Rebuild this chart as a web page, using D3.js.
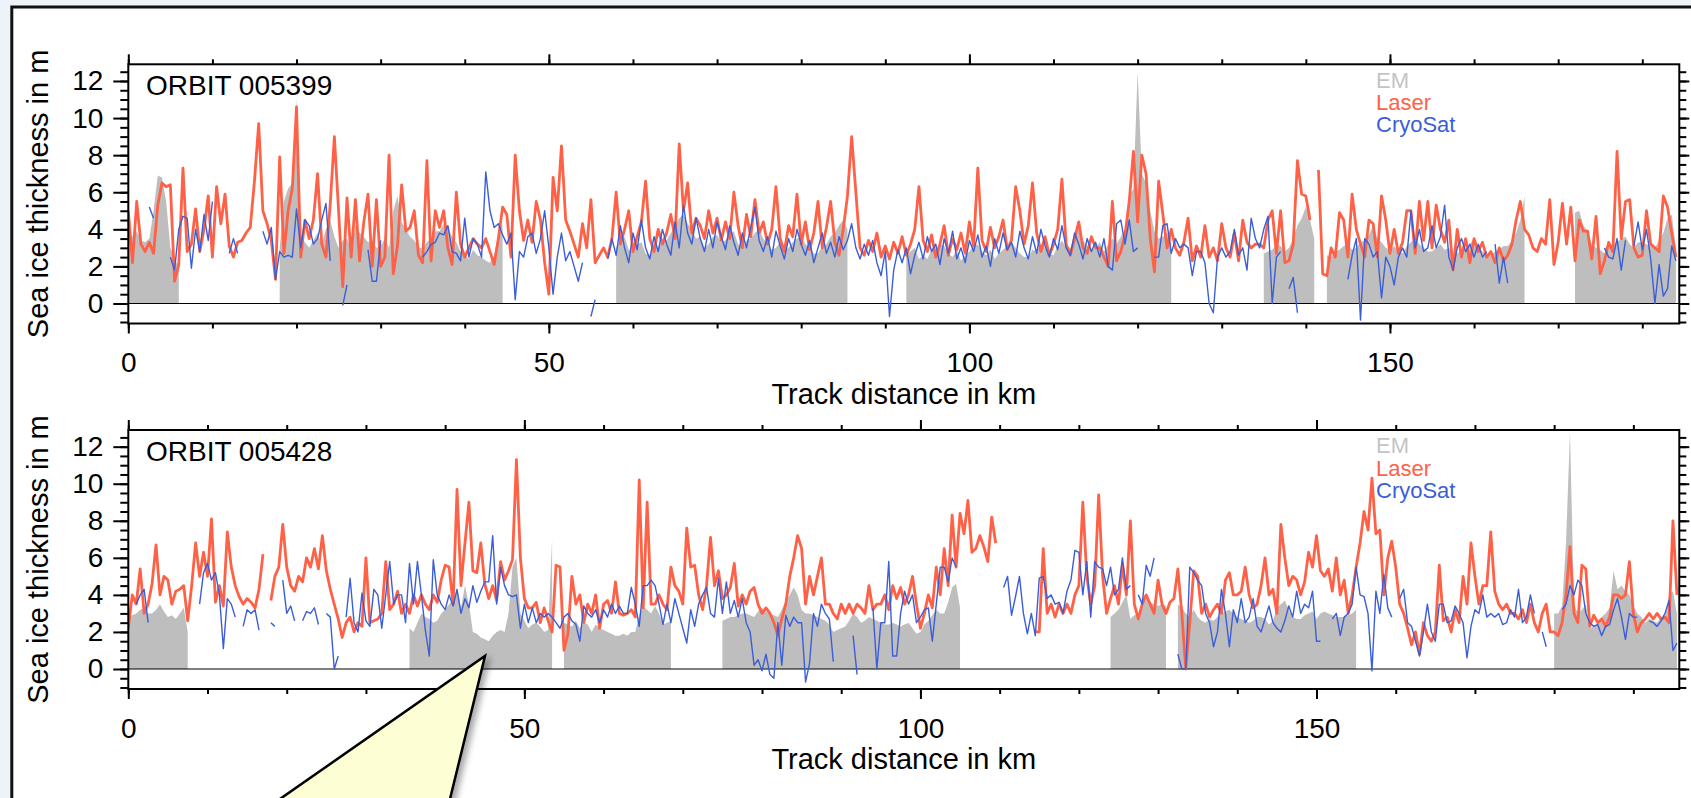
<!DOCTYPE html>
<html>
<head>
<meta charset="utf-8">
<script src="https://cdnjs.cloudflare.com/ajax/libs/d3/7.8.5/d3.min.js"></script>
<style>
    html, body { margin: 0; padding: 0; background: #edf3f8; }
    svg { display: block; }
</style>
</head>
<body>
<div id="chart"></div>
<script>
// samples are 0.5 km apart along the track, null = no data
var STEP = 0.5;

var orbitNames = ['ORBIT 005399', 'ORBIT 005428'];
var trackLength = [184.4, 195.8];
var legendNames = ['EM', 'Laser', 'CryoSat'];
var xTickValues = [0, 50, 100, 150];
var yTickValues = [0, 2, 4, 6, 8, 10, 12];

// ---- ORBIT 005399 ----
var em1 = [
    4.0, 3.6, 3.9, 3.4, 3.3, 3.5, 5.0, 6.9, 6.8, 5.5,
    3.0, 2.4, 2.0, null, null, null, null, null, null, null,
    null, null, null, null, null, null, null, null, null, null,
    null, null, null, null, null, null, 3.0, 5.5, 6.2, 6.5,
    11.0, 3.5, 3.3, 3.0, 3.4, 3.8, 3.2, 4.0, 4.5, 3.6,
    3.0, 3.4, 3.5, 3.0, 4.2, 3.8, 3.6, 3.3, 3.4, 3.0,
    3.1, 3.5, 3.0, 5.0, 5.8, 4.4, 4.0, 3.6, 3.4, 3.0,
    3.0, 3.3, 3.5, 3.9, 3.9, 4.3, 4.1, 3.6, 3.3, 2.8,
    2.6, 2.4, 2.9, 2.6, 2.5, 2.3, 2.2, 2.6, 3.8, 4.3,
    null, null, null, null, null, null, null, null, null, null,
    null, null, null, null, null, null, null, null, null, null,
    null, null, null, null, null, null, 3.0, 3.4, 3.6, 2.9,
    2.8, 3.2, 3.3, 2.7, 2.6, 3.1, 3.0, 3.4, 3.4, 3.8,
    4.2, 4.6, 4.8, 4.3, 4.0, 3.5, 3.6, 3.0, 3.2, 3.6,
    3.7, 3.3, 3.4, 3.8, 3.9, 3.2, 3.0, 3.4, 3.5, 3.8,
    4.0, 3.5, 3.2, 2.9, 3.0, 3.3, 2.8, 3.0, 3.3, 3.5,
    3.6, 3.2, 3.0, 2.7, 2.7, 3.1, 3.2, 3.6, 3.8, 4.2,
    4.5, 4.0, null, null, null, null, null, null, null, null,
    null, null, null, null, null, 2.6, 2.8, 3.0, 2.4, 2.6,
    2.4, 2.9, 2.8, 3.2, 3.1, 2.7, 2.5, 2.9, 2.3, 2.6,
    2.8, 3.1, 3.2, 2.8, 2.6, 2.9, 2.4, 2.7, 2.9, 3.1,
    3.3, 3.0, 2.7, 2.5, 2.5, 2.9, 2.8, 3.2, 3.0, 2.7,
    2.6, 3.1, 3.4, 3.0, 3.0, 3.5, 4.0, 3.4, 3.1, 2.9,
    3.0, 3.3, 2.8, 3.2, 3.5, 3.2, 3.6, 4.0, 5.8, 6.2,
    12.5, 7.0, 6.5, 5.0, 3.9, 3.5, 3.6, 3.8, 3.5, null,
    null, null, null, null, null, null, null, null, null, null,
    null, null, null, null, null, null, null, null, null, null,
    2.7, 2.8, 2.9, 3.2, 3.1, 2.8, 3.0, 3.5, 4.2, 4.6,
    5.2, 4.5, 3.5, null, null, 2.6, 2.5, 2.8, 2.9, 3.1,
    3.2, 2.9, 3.0, 3.3, 3.4, 3.7, 4.2, 3.5, 3.3, 3.0,
    2.9, 3.1, 2.8, 2.7, 3.1, 3.3, 3.5, 3.2, 3.0, 2.8,
    2.8, 3.0, 3.2, 2.9, 3.0, 2.6, 2.7, 2.9, 2.9, 3.2,
    3.5, 3.0, 2.8, 2.6, 2.6, 2.8, 2.9, 3.1, 3.1, 3.4,
    3.8, 4.5, 5.8, null, null, null, null, null, null, null,
    null, null, null, null, 4.9, 5.0, 4.2, 3.9, 3.2, 3.0,
    2.9, 2.7, 3.0, 3.2, 3.3, 3.5, 3.6, 3.2, 3.0, 3.3,
    3.3, 3.2, 3.1, 3.0, 3.4, 3.8, 4.6, 4.8, 3.0
];

var laser1 = [
    5.0, 2.2, 5.5, 3.2, 2.8, 3.3, 2.7, 5.3, 6.5, 6.3,
    6.4, 1.2, 2.1, 7.3, 2.8, 3.2, 5.1, 2.8, 4.0, 5.8,
    2.5, 6.3, 4.3, 5.9, 3.1, 2.5, 3.3, 3.4, 3.8, 4.1,
    6.6, 9.7, 5.0, 4.3, 3.4, 1.3, 7.9, 2.7, 5.0, 6.2,
    10.6, 2.5, 4.5, 3.5, 4.5, 7.0, 3.2, 2.5, 5.3, 9.0,
    5.0, 0.9, 5.7, 2.5, 5.6, 2.3, 4.4, 5.9, 2.0, 5.6,
    2.0, 2.5, 8.0, 1.6, 3.1, 6.4, 3.9, 4.1, 5.0, 2.6,
    2.2, 7.7, 2.3, 5.0, 4.1, 5.0, 3.0, 2.1, 6.0, 3.2,
    2.5, 3.0, 3.5, 3.2, 3.0, 3.5, 2.8, 2.1, 3.5, 5.2,
    4.8, 2.5, 8.0, 5.0, 3.4, 4.5, 3.3, 5.5, 4.5, 2.2,
    0.5, 6.8, 5.0, 8.5, 4.5, 3.9, 3.2, 2.5, 4.3, 3.0,
    5.6, 2.2, 2.6, 3.0, 2.5, 3.5, 6.0, 3.2, 4.0, 5.0,
    2.8, 3.6, 4.4, 6.6, 3.5, 2.8, 4.0, 3.2, 3.8, 4.8,
    3.5, 8.6, 5.0, 6.5, 3.8, 4.6, 4.2, 3.5, 5.0, 3.8,
    4.6, 3.4, 4.4, 3.5, 6.0, 4.2, 3.0, 4.8, 3.6, 5.6,
    3.8, 4.4, 3.2, 4.0, 6.3, 3.5, 2.8, 4.2, 3.6, 5.9,
    3.2, 4.4, 2.9, 3.8, 5.5, 3.0, 4.1, 5.5, 3.3, 2.6,
    4.0, 5.8, 9.0, 6.0, 3.0, 2.6, 3.4, 2.8, 3.8, 2.5,
    3.1, 2.4, 3.3, 2.7, 3.6, 2.6, 3.2, 4.0, 6.3, 3.4,
    2.8, 3.7, 2.5, 3.2, 4.2, 2.6, 3.5, 2.9, 3.8, 2.7,
    4.4, 3.1, 7.3, 3.4, 2.8, 4.1, 3.0, 3.6, 4.5, 2.9,
    3.4, 6.3, 5.0, 3.2, 4.2, 6.5, 3.8, 2.8, 3.6, 2.6,
    3.2, 4.0, 6.7, 3.2, 2.6, 3.5, 4.4, 3.0, 2.7, 3.6,
    3.0, 3.0, 2.5, 2.0, 5.5, 2.3, 2.8, 3.7, 5.5, 8.2,
    4.4, 8.0, 7.0, 3.5, 1.7, 6.6, 4.8, 3.0, 4.0, 3.0,
    2.6, 3.3, 4.6, 2.3, 3.1, 2.5, 4.2, 2.5, 3.0, 2.3,
    4.3, 3.0, 2.5, 3.8, 2.3, 4.5, 3.3, 3.0, 3.2, 3.2,
    3.0, 4.5, 5.0, 2.7, 5.0, 2.2, 2.3, 3.2, 7.7, 5.9,
    5.8, 4.5, null, 7.2, 1.6, 1.5, 3.0, 2.5, 4.9, 4.5,
    2.5, 5.9, 4.0, 3.2, 2.5, 4.5, 4.3, 2.5, 5.8, 4.5,
    2.7, 4.0, 2.7, 3.3, 5.0, 5.0, 2.7, 5.5, 3.4, 5.5,
    3.0, 5.3, 4.0, 3.3, 4.5, 1.8, 4.0, 2.5, 3.5, 2.2,
    3.5, 2.8, 3.3, 2.5, 2.8, 2.2, 3.0, 2.3, 2.6, 3.2,
    4.5, 5.5, 4.0, 3.7, 3.0, 2.8, 3.5, 3.2, 5.6, 2.1,
    3.3, 5.4, 3.2, 5.2, 2.3, 4.5, 3.9, 3.9, 2.4, 4.7,
    1.6, 2.3, 3.3, 2.8, 8.2, 3.5, 5.5, 5.6, 3.0, 2.5,
    2.6, 5.0, 3.2, 3.0, 2.8, 5.8, 5.2, 3.8, 2.5
];

var cryo1 = [
    null, null, null, null, null, 5.2, 4.6, null, null, null,
    2.5, 1.8, 4.0, 4.7, 4.6, 1.9, 4.0, 2.8, 4.8, 3.4,
    5.5, null, null, null, 2.7, 3.5, 2.7, null, null, null,
    null, null, 3.9, 3.2, 4.1, 1.3, 2.8, 2.5, 2.6, 2.5,
    5.1, 3.0, 4.5, 4.2, 3.2, 3.5, 4.5, 5.4, 2.3, null,
    null, -0.1, 1.0, null, null, null, null, 2.9, 1.2, 1.2,
    3.4, null, null, null, null, null, null, null, null, null,
    2.5, 2.8, 3.2, 3.3, 3.8, 3.7, 4.2, 2.8, 2.7, 2.3,
    4.6, 2.5, 3.5, 3.2, 2.5, 7.1, 5.0, 4.1, 4.3, 3.7,
    3.2, 3.8, 0.2, 2.8, 2.5, 3.6, 3.8, 2.7, 3.5, 5.0,
    3.0, 0.5, 2.5, 3.8, 2.3, 2.8, 2.0, 1.2, 2.2, null,
    -0.7, 0.2, null, null, 2.4, 3.5, 2.6, 4.2, 3.0, 2.2,
    3.8, 2.9, 4.5, 3.0, 2.4, 3.6, 2.8, 4.0, 3.2, 2.6,
    4.4, 3.0, 5.3, 3.8, 3.2, 4.6, 3.5, 2.8, 4.0, 3.0,
    4.4, 3.6, 2.9, 4.2, 3.3, 2.6, 3.8, 3.0, 4.1, 5.2,
    3.4, 2.8, 3.6, 2.5, 3.9, 3.1, 2.4, 3.5, 2.8, 4.0,
    3.2, 2.6, 3.4, 2.2, 3.0, 3.8, 2.7, 3.3, 2.5, 3.6,
    2.9, 3.4, 4.3, 3.0, 2.4, 3.2, 2.6, 3.4, 2.2, 1.5,
    2.8, -0.7, 1.8, 2.9, 2.2, 3.0, 1.6, 2.6, 3.3, 2.4,
    3.6, 2.8, 3.2, 2.1, 3.5, 2.7, 3.9, 2.4, 3.0, 2.2,
    3.4, 2.8, 3.7, 2.5, 3.1, 2.0, 3.5, 2.7, 3.8, 2.9,
    3.3, 2.5, 3.9, 3.0, 2.4, 3.6, 2.7, 4.0, 3.1, 2.5,
    3.5, 2.9, 4.2, 3.0, 2.6, 3.8, 3.2, 2.4, 3.5, 2.8,
    3.3, 2.5, 3.5, 2.0, 1.8, 4.3, 4.5, 3.2, 4.5, 2.8,
    3.0, null, null, null, 2.5, 2.5, 4.2, 4.3, 2.7, 3.5,
    3.0, 3.2, 3.0, 1.5, 2.8, 2.8, 2.2, 0.0, -0.5, 2.5,
    3.0, 2.5, 2.8, 4.0, 2.6, 3.0, 1.8, 4.6, 3.5, 3.0,
    4.0, 4.7, 0.0, 2.5, 2.8, null, 0.8, 1.4, -0.5, null,
    null, null, null, null, null, null, null, null, null, null,
    1.3, 2.6, 3.5, -0.9, 3.5, 3.2, 2.5, 2.8, 0.3, 2.5,
    2.0, 1.0, 2.5, 3.0, 2.5, 5.0, 3.0, 4.0, 2.8, 3.0,
    4.2, 3.0, 3.6, 5.3, 2.5, 1.8, 3.0, 3.5, 2.8, 3.2,
    2.5, 3.2, 2.5, 2.8, null, 3.2, 1.1, 2.5, 1.1, null,
    null, null, null, null, null, null, null, null, null, null,
    null, null, null, null, null, null, null, null, null, null,
    null, 3.0, 2.5, 2.4, 3.5, 1.8, 3.4, null, 3.1, 4.4,
    2.9, 4.0, 2.4, 0.0, 2.1, 0.4, 0.8, 3.1, 2.3
];

// ---- ORBIT 005428 ----
var em2 = [
    2.8, 2.9, 3.0, 3.2, 3.3, 3.0, 3.0, 3.2, 3.5, 3.1,
    2.8, 2.9, 2.7, 3.0, 3.3, 2.0, null, null, null, null,
    null, null, null, null, null, null, null, null, null, null,
    null, null, null, null, null, null, null, null, null, null,
    null, null, null, null, null, null, null, null, null, null,
    null, null, null, null, null, null, null, null, null, null,
    null, null, null, null, null, null, null, null, null, null,
    null, 2.2, 2.0, 2.5, 3.0, 2.8, 2.7, 2.5, 2.6, 3.0,
    3.2, 3.5, 3.8, 4.3, 3.3, 4.5, 3.5, 2.0, 1.9, 1.7,
    1.6, 1.5, 1.8, 2.0, 2.1, 2.0, 3.0, 5.5, 6.0, 3.0,
    2.6, 2.2, 2.4, 2.5, 2.3, 2.0, 2.1, 7.0, null, null,
    2.5, 2.4, 2.3, 2.6, 2.2, 2.5, 2.4, 2.0, 2.4, 2.2,
    2.1, 2.0, 1.9, 1.8, 1.8, 1.9, 1.8, 2.0, 2.0, 2.9,
    3.4, 3.2, 3.0, 3.4, 3.0, 2.4, 2.5, 2.6, null, null,
    null, null, null, null, null, null, null, null, null, null,
    2.6, 2.7, 2.8, 2.8, 2.9, 3.0, 3.0, 2.9, 2.8, 3.1,
    3.3, 3.1, 3.0, 2.9, 2.8, 3.2, 3.7, 4.0, 4.4, 4.0,
    3.2, 3.0, 3.0, 2.9, 2.8, 2.7, 2.6, 2.4, 2.0, 2.1,
    2.2, 2.3, 2.6, 3.0, 2.8, 2.5, 2.6, 2.8, 2.7, 2.6,
    2.5, 2.4, 2.4, 2.5, 2.4, 2.3, 2.4, 2.5, 2.2, 1.9,
    2.0, 2.4, 2.6, 2.9, 3.2, 3.0, 3.0, 3.6, 4.4, 4.6,
    3.3, null, null, null, null, null, null, null, null, null,
    null, null, null, null, null, null, null, null, null, null,
    null, null, null, null, null, null, null, null, null, null,
    null, null, null, null, null, null, null, null, 2.8, 3.0,
    3.2, 3.6, 4.0, 2.7, 2.9, 3.0, 3.4, 3.8, 3.6, 3.5,
    3.4, 3.5, 3.4, null, null, 3.5, 3.3, 3.0, 2.8, 3.2,
    2.8, 2.6, 2.5, 2.7, 2.6, 2.8, 3.0, 3.1, 3.2, 3.0,
    2.8, 2.7, 2.6, 2.5, 2.6, 2.8, 2.8, 2.7, 2.4, 2.6,
    3.3, 3.5, 3.7, 3.2, 2.8, 2.7, 2.7, 2.9, 3.0, 3.1,
    2.7, 3.0, 3.1, 3.0, 2.9, 2.8, 2.8, 2.8, 2.9, 3.0,
    3.2, null, null, null, null, null, null, null, null, null,
    null, null, null, null, null, null, null, null, null, null,
    null, null, null, null, null, null, null, null, null, null,
    null, null, null, null, null, null, null, null, null, null,
    null, null, null, null, null, null, null, null, null, null,
    3.0, 3.0, 3.4, 6.8, 12.8, 3.5, 3.0, 3.2, 3.5, 2.2,
    2.3, 2.5, 2.8, 3.0, 3.3, 5.3, 4.3, 4.5, 4.2, 4.0,
    3.4, 3.0, 2.8, 2.5, 2.7, 2.6, 2.5, 2.8, 2.8, 4.0,
    4.2, 3.0
];

var laser2 = [
    2.2, 4.0, 3.5, 5.4, 3.0, 3.5, 4.6, 6.7, 4.0, 5.0,
    4.8, 3.5, 4.2, 4.3, 4.5, 2.6, 4.5, 6.8, 5.0, 6.3,
    5.0, 8.1, 3.6, 4.5, 3.4, 7.4, 5.5, 4.5, 3.9, 3.5,
    3.8, 3.6, 3.3, 4.3, 6.2, null, 3.7, 5.0, 5.5, 7.8,
    5.5, 4.5, 4.2, 5.0, 4.7, 6.0, 5.5, 6.5, 5.4, 7.2,
    5.3, 4.3, 3.5, 2.7, 1.7, 2.5, 2.8, 2.0, 2.5, 2.3,
    6.0, 2.5, 2.6, 2.7, 3.0, 5.8, 3.2, 3.5, 4.2, 3.0,
    3.5, 3.0, 4.0, 3.4, 4.0, 3.5, 3.2, 4.0, 3.6, 4.8,
    5.6, 5.5, 3.5, 9.7, 4.5, 6.8, 9.0, 5.3, 5.2, 6.8,
    4.6, 3.8, 4.5, 3.7, 5.8, 4.8, 5.3, 5.9, 11.3, 6.0,
    3.8, 3.3, 3.3, 3.6, 2.5, 3.3, 2.6, 2.0, 5.6, 5.5,
    1.0, 1.9, 5.0, 3.5, 4.0, 2.5, 3.5, 3.0, 4.0, 2.2,
    3.5, 3.7, 3.0, 4.7, 3.0, 2.9, 3.0, 3.2, 2.8, 10.2,
    3.3, 9.0, 3.5, 3.5, 4.0, 3.5, 3.2, 5.5, 4.5, 4.2,
    3.5, 7.6, 5.5, 5.6, 4.0, 3.2, 4.5, 7.1, 4.5, 5.3,
    3.8, 4.0, 4.4, 5.7, 3.4, 4.0, 3.5, 4.2, 4.4, 3.5,
    3.0, 3.3, 3.0, 2.5, 1.8, 2.7, 3.5, 5.0, 6.0, 7.2,
    6.5, 3.5, 5.0, 4.0, 5.0, 6.0, 3.5, 3.5, 3.0, 2.7,
    3.5, 3.0, 3.5, 3.0, 3.5, 3.3, 3.0, 4.5, 3.2, 3.5,
    3.5, 4.0, 3.2, 4.5, 3.8, 4.4, 3.5, 4.0, 5.0, 3.5,
    2.2, 3.0, 4.0, 3.3, 5.5, 4.0, 6.5, 4.5, 8.3, 5.5,
    8.4, 7.3, 9.1, 6.3, 6.5, 7.2, 6.6, 5.8, 8.2, 6.8,
    null, null, null, null, null, null, null, null, null, 2.0,
    2.0, 6.5, 3.0, 3.5, 2.8, 3.5, 3.0, 3.5, 3.0, 4.0,
    4.5, 9.0, 5.0, 3.5, 4.5, 9.4, 5.0, 3.0, 3.8, 4.5,
    3.5, 5.6, 4.0, 8.0, 3.5, 2.7, 3.5, 4.0, 3.5, 3.0,
    4.8, 3.5, 3.0, 3.6, 3.8, 5.4, 3.0, 0.0, 2.5, 5.3,
    5.0, 3.0, 3.5, 2.8, 3.2, 3.5, 3.0, 4.8, 5.2, 4.0,
    4.0, 4.2, 5.5, 4.0, 3.3, 3.5, 4.5, 6.0, 4.0, 4.3,
    3.0, 7.8, 6.0, 4.5, 5.0, 4.8, 4.0, 4.7, 6.3, 5.5,
    7.2, 5.3, 5.0, 5.4, 4.2, 6.0, 4.0, 4.8, 3.0, 4.0,
    5.5, 6.8, 8.5, 7.5, 10.3, 7.3, 7.5, 4.0, 6.0, 6.9,
    5.5, 3.5, 3.0, 2.2, 1.3, 2.0, 0.8, 2.5, 1.8, 1.5,
    2.0, 5.6, 2.6, 2.8, 2.0, 3.2, 2.5, 5.0, 3.5, 6.8,
    5.0, 3.5, 4.5, 4.5, 7.4, 4.2, 3.5, 3.2, 3.5, 3.0,
    3.0, 2.7, 3.2, 2.5, 3.5, 2.5, 2.0, 3.0, 3.5, 2.0,
    2.0, 1.8, 2.5, 4.0, 6.6, 3.0, 2.5, 5.6, 5.4, 2.3,
    2.9, 2.5, 2.7, 2.3, 2.8, 4.0, 4.0, 3.8, 4.0, 5.8,
    3.0, 2.0, 2.5, 2.7, 3.0, 2.7, 3.0, 2.7, 2.8, 2.5,
    8.0, 4.0
];

var cryo2 = [
    null, null, 3.5, 4.0, 4.3, 2.5, null, null, null, null,
    null, null, null, null, null, null, null, null, 3.5, 5.2,
    5.7, 4.8, 5.2, 4.0, 1.1, 3.8, 3.5, 2.8, null, 2.3,
    3.2, 3.0, 3.2, 2.1, null, null, 2.5, 2.3, null, 4.8,
    3.0, 3.4, 2.6, null, 2.6, 3.1, 3.0, 3.3, 2.4, null,
    3.0, 2.8, 0.0, 0.7, null, 2.8, 4.9, 2.5, 2.0, 4.1,
    2.6, 2.3, 4.3, 4.0, 2.2, 4.0, 5.8, 3.5, 4.0, 4.0,
    2.5, 5.7, 3.5, 5.8, 4.0, 2.1, 0.7, 5.9, 4.0, 3.5,
    3.2, 4.0, 3.4, 4.3, 3.0, 3.8, 3.3, 4.5, 3.6, 4.2,
    4.7, 4.7, 7.2, 3.5, 5.5, 4.5, 4.0, 3.9, 4.0, 2.2,
    3.5, 2.5, 3.3, 2.5, 3.0, 2.8, 3.0, 2.8, 2.5, 2.2,
    2.8, 3.0, 2.6, 2.4, 1.5, 3.4, 3.0, 2.8, 3.2, 2.5,
    3.2, 2.8, 3.5, 3.0, 3.4, 3.0, 3.0, 4.4, 3.5, 2.3,
    4.5, 4.5, 4.8, 4.5, 3.5, 2.4, 3.5, 2.5, 3.8, 3.0,
    2.2, 1.4, 3.2, 2.3, 3.5, 4.0, 4.4, 3.0, 2.8, 4.9,
    3.0, 4.7, 3.0, 3.7, 2.8, 3.8, 2.5, 2.0, 0.2, 0.5,
    -0.1, 0.8, -0.3, -0.5, 2.5, 0.2, 2.9, 2.3, 2.8, 2.5,
    2.5, -0.7, 0.3, 3.0, 2.3, 3.5, 3.0, 2.7, 0.4, null,
    null, null, null, 1.8, -0.3, null, null, null, 3.3, 0.0,
    2.5, 2.5, 5.8, 0.7, 0.7, 3.0, 4.2, 3.5, 4.0, 2.5,
    2.8, 3.2, 3.3, 1.5, 3.5, 5.5, 5.5, 4.7, 6.0, 5.5,
    null, null, null, null, null, null, null, null, null, null,
    null, 4.4, 5.0, 2.9, 3.9, 5.0, 3.0, 1.9, 3.0, 1.8,
    4.9, 5.0, 3.8, 4.0, 3.5, 3.6, 3.0, 4.2, 4.8, 6.4,
    6.3, 4.0, 5.8, 2.8, 5.8, 5.5, 5.4, 4.5, 5.5, 4.0,
    4.3, 6.0, 4.3, 4.5, null, 4.0, 3.5, 5.6, 5.0, 6.0,
    null, null, null, null, null, 0.8, 0.0, 0.0, 5.5, 5.2,
    4.8, 4.5, 3.0, 2.5, 1.2, 2.0, 4.3, 3.0, 1.2, 3.2,
    2.5, 3.8, 2.5, 2.8, 3.8, 2.3, 2.0, 2.7, 3.4, 2.5,
    2.2, 2.0, 2.6, 3.4, 2.8, 4.2, 3.0, 3.5, 3.3, 4.2,
    1.5, 1.5, null, null, 2.7, 3.0, 1.8, 2.8, 3.0, 3.5,
    5.5, 4.0, 3.9, 3.0, -0.1, 4.2, 3.0, 5.1, 3.3, 2.8,
    null, 3.8, 4.3, 2.5, 2.3, 1.5, 0.7, 2.0, 3.5, 2.0,
    1.5, 3.5, 3.5, 2.5, 2.6, 3.4, 3.0, 2.5, 0.6, 2.3,
    3.2, 3.0, 4.0, 2.8, 3.0, 2.8, 3.0, 2.4, 2.5, 3.2,
    2.8, 4.3, 2.5, 2.8, 4.0, 3.0, null, 2.0, 1.2, null,
    null, null, 3.2, 3.5, 4.5, 4.0, 4.8, 4.5, 3.0, 2.5,
    2.3, 2.4, 1.8, 2.3, 2.4, 3.2, 3.8, 2.8, 1.6, 3.0,
    2.8, 2.8, null, null, 2.6, 2.5, 2.3, 2.6, 3.0, 3.7,
    1.0, 1.4
];

var colors = { em: '#bebebe', emText: '#c4c4c4', laser: '#ff6146', cryo: '#3b5ed8' };
var FONT = '"Liberation Sans", Arial, Helvetica, sans-serif';

var width = 1691, height = 798;
var plotLeft = 128.3, plotRight = 1679.3;
var yDomain = [-1.08, 12.9];

var panels = [
    { top: 64.3, bottom: 323.5, length: trackLength[0], name: orbitNames[0], em: em1, laser: laser1, cryo: cryo1 },
    { top: 430, bottom: 689, length: trackLength[1], name: orbitNames[1], em: em2, laser: laser2, cryo: cryo2 }
];

var svg = d3.select('#chart').append('svg')
        .attr('width', width)
        .attr('height', height);

var defs = svg.append('defs');
defs.append('filter')
        .attr('id', 'callout-shadow')
        .attr('x', '-20%').attr('y', '-20%').attr('width', '150%').attr('height', '150%')
    .append('feDropShadow')
        .attr('dx', 4).attr('dy', 3)
        .attr('stdDeviation', 3)
        .attr('flood-color', '#000')
        .attr('flood-opacity', 0.35);

// page and outer frame
svg.append('rect')
        .attr('width', width)
        .attr('height', height)
        .attr('fill', '#edf3f8');
svg.append('rect')
        .attr('x', 11.8)
        .attr('y', 7)
        .attr('width', 1740)
        .attr('height', 860)
        .attr('fill', '#ffffff')
        .attr('stroke', '#111111')
        .attr('stroke-width', 3);

var styleAxis = function(sel, fontSize) {
    sel.select('.domain').remove();
    sel.selectAll('.tick line').attr('stroke', '#000').attr('stroke-width', 2);
    sel.selectAll('.tick text')
            .attr('fill', '#000')
            .style('font-family', FONT)
            .style('font-size', fontSize + 'px');
};

var drawPanel = function(p, idx) {
    var x = d3.scaleLinear().domain([0, p.length]).range([plotLeft, plotRight]);
    var y = d3.scaleLinear().domain(yDomain).range([p.bottom, p.top]);
    var g = svg.append('g').attr('class', 'panel-' + idx);
    var clipId = 'clip-' + idx;

    defs.append('clipPath').attr('id', clipId)
        .append('rect')
            .attr('x', plotLeft)
            .attr('y', p.top)
            .attr('width', plotRight - plotLeft)
            .attr('height', p.bottom - p.top);

    var defined = function(d) { return d !== null; };
    var xAt = function(d, i) { return x(i * STEP); };

    var plot = g.append('g').attr('clip-path', 'url(#' + clipId + ')');

    plot.append('path')
            .datum(p.em)
            .attr('d', d3.area().defined(defined).x(xAt).y0(y(0)).y1(function(d) { return y(d); }))
            .attr('fill', colors.em);

    plot.append('line')
            .attr('x1', plotLeft).attr('x2', plotRight)
            .attr('y1', y(0)).attr('y2', y(0))
            .attr('stroke', '#000')
            .attr('stroke-width', 1.2);

    plot.append('path')
            .datum(p.laser)
            .attr('d', d3.line().defined(defined).x(xAt).y(function(d) { return y(d); }))
            .attr('fill', 'none')
            .attr('stroke', colors.laser)
            .attr('stroke-width', 2.8)
            .attr('stroke-linejoin', 'round');

    plot.append('path')
            .datum(p.cryo)
            .attr('d', d3.line().defined(defined).x(xAt).y(function(d) { return y(d); }))
            .attr('fill', 'none')
            .attr('stroke', colors.cryo)
            .attr('stroke-width', 1.4)
            .attr('stroke-linejoin', 'round');

    // axes: labelled ticks left/bottom, plain ticks right/top
    var minorY = d3.range(-1, 13, 0.5);
    var minorX = d3.range(0, p.length, 10);

    g.append('g').attr('transform', 'translate(' + plotLeft + ',0)')
            .call(d3.axisLeft(y).tickValues(minorY).tickSize(8).tickFormat(''))
            .call(styleAxis, 28);
    g.append('g').attr('transform', 'translate(' + plotLeft + ',0)')
            .call(d3.axisLeft(y).tickValues(yTickValues).tickSize(15).tickPadding(10).tickFormat(d3.format('d')))
            .call(styleAxis, 28);
    g.append('g').attr('transform', 'translate(' + plotRight + ',0)')
            .call(d3.axisRight(y).tickValues(minorY).tickSize(7).tickFormat(''))
            .call(styleAxis, 28);
    g.append('g').attr('transform', 'translate(' + plotRight + ',0)')
            .call(d3.axisRight(y).tickValues(yTickValues).tickSize(10).tickFormat(''))
            .call(styleAxis, 28);

    g.append('g').attr('transform', 'translate(0,' + p.bottom + ')')
            .call(d3.axisBottom(x).tickValues(minorX).tickSize(5).tickFormat(''))
            .call(styleAxis, 28);
    g.append('g').attr('transform', 'translate(0,' + p.bottom + ')')
            .call(d3.axisBottom(x).tickValues(xTickValues).tickSize(10).tickPadding(19).tickFormat(d3.format('d')))
            .call(styleAxis, 28);
    g.append('g').attr('transform', 'translate(0,' + p.top + ')')
            .call(d3.axisTop(x).tickValues(minorX).tickSize(5).tickFormat(''))
            .call(styleAxis, 28);
    g.append('g').attr('transform', 'translate(0,' + p.top + ')')
            .call(d3.axisTop(x).tickValues(xTickValues).tickSize(10).tickFormat(''))
            .call(styleAxis, 28);

    g.append('rect')
            .attr('x', plotLeft)
            .attr('y', p.top)
            .attr('width', plotRight - plotLeft)
            .attr('height', p.bottom - p.top)
            .attr('fill', 'none')
            .attr('stroke', '#000')
            .attr('stroke-width', 2);

    // labels
    g.append('text')
            .attr('x', 146)
            .attr('y', p.top + 31)
            .style('font', '28px ' + FONT)
            .text(p.name);

    g.append('text')
            .attr('x', (plotLeft + plotRight) / 2)
            .attr('y', p.bottom + 80)
            .attr('text-anchor', 'middle')
            .style('font', '29px ' + FONT)
            .text('Track distance in km');

    g.append('text')
            .attr('text-anchor', 'middle')
            .attr('transform', 'translate(47.5,' + ((p.top + p.bottom) / 2) + ')rotate(-90)')
            .style('font', '29px ' + FONT)
            .text('Sea ice thickness in m');

    var legendColors = [colors.emText, colors.laser, colors.cryo];
    var legendY = [23.4, 45.7, 68];
    legendNames.forEach(function(name, i) {
        g.append('text')
                .attr('x', 1376)
                .attr('y', p.top + legendY[i])
                .attr('fill', legendColors[i])
                .style('font', '22px ' + FONT)
                .text(name);
    });
};

panels.forEach(drawPanel);

// yellow callout pointing into the lower panel
var tip = [485, 656];
svg.append('path')
        .attr('d', 'M' + tip[0] + ',' + tip[1] + ' L442.4,830 L235.5,830 Z')
        .attr('fill', '#fefed4')
        .attr('stroke', '#000')
        .attr('stroke-width', 2.5)
        .attr('stroke-linejoin', 'miter')
        .attr('filter', 'url(#callout-shadow)');
</script>
</body>
</html>
